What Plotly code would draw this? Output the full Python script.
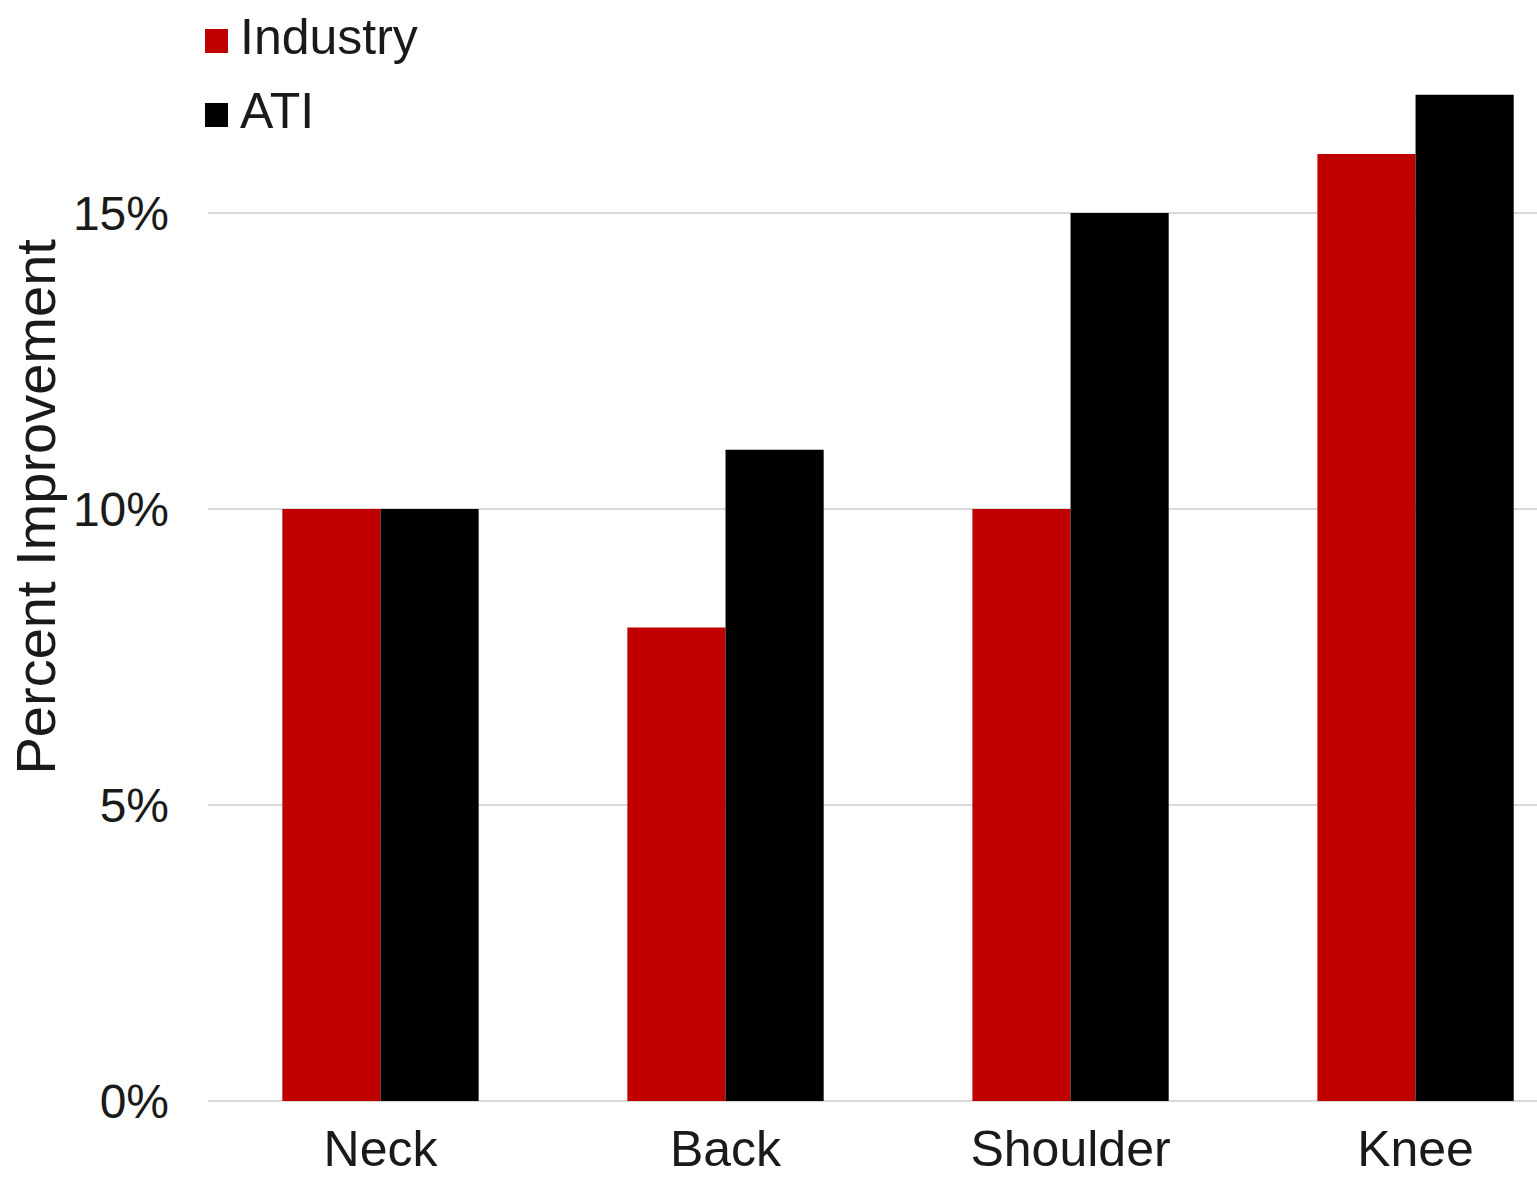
import plotly.graph_objects as go

categories = ["Neck", "Back", "Shoulder", "Knee"]
industry = [10, 8, 10, 16]
ati = [10, 11, 15, 17]
tick_vals = [0, 5, 10, 15]
tick_text = ["0%", "5%", "10%", "15%"]
series_names = ["Industry", "ATI"]
series_colors = ["#C00000", "#000000"]

FONT = "Liberation Sans, Arial, sans-serif"
TXT = "#1a1a1a"

fig = go.Figure()
fig.add_trace(go.Bar(name=series_names[0], x=categories, y=industry,
                     marker_color=series_colors[0], marker_line_width=0, showlegend=False))
fig.add_trace(go.Bar(name=series_names[1], x=categories, y=ati,
                     marker_color=series_colors[1], marker_line_width=0, showlegend=False))

fig.update_layout(
    width=1537, height=1181,
    margin=dict(l=208, r=0, t=0, b=80),
    paper_bgcolor="white", plot_bgcolor="white",
    barmode="group", bargap=0.431, bargroupgap=0,
    font=dict(family=FONT, color=TXT),
)
fig.update_xaxes(range=[-0.5, 3.352], showgrid=False, showline=False, ticks="",
                 ticklabelstandoff=14,
                 tickfont=dict(family=FONT, size=50, color=TXT))
fig.update_yaxes(range=[0, 18.6], tickvals=tick_vals, ticktext=tick_text,
                 showgrid=True, gridcolor="#d9d9d9", gridwidth=2,
                 zeroline=True, zerolinecolor="#d9d9d9", zerolinewidth=2,
                 showline=False, ticks="", ticklabelstandoff=38,
                 tickfont=dict(family=FONT, size=48, color=TXT))
fig.add_annotation(text="Percent Improvement", textangle=-90, xref="paper", yref="paper",
                   x=0, y=(1101 - 507) / 1101, xanchor="right", yanchor="middle",
                   xshift=-140, showarrow=False,
                   font=dict(family=FONT, size=56, color=TXT))

# manual legend (large square swatches like the reference)
H = 1101.0
legend_rows = [41, 115]  # pixel centers from top
for name, col, yc in zip(series_names, series_colors, legend_rows):
    yp = (H - yc) / H
    fig.add_shape(type="rect", xref="paper", yref="paper",
                  x0=-3 / 1329, x1=20 / 1329, y0=yp - 12 / H, y1=yp + 12 / H,
                  fillcolor=col, line_width=0)
    fig.add_annotation(text=name, xref="paper", yref="paper", x=30 / 1329, y=yp + 4 / H,
                       xanchor="left", yanchor="middle", showarrow=False,
                       font=dict(family=FONT, size=50, color=TXT))

fig.write_html("out.html")
